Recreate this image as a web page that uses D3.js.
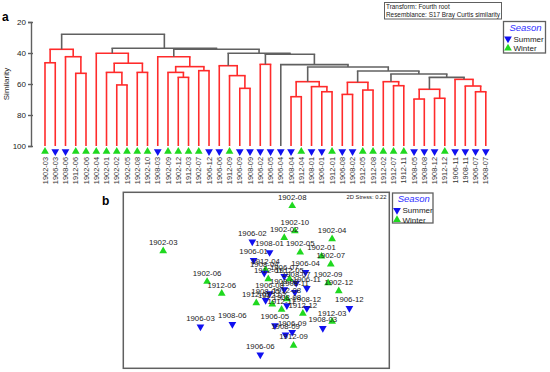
<!DOCTYPE html>
<html>
<head>
<meta charset="utf-8">
<script src="https://cdn.jsdelivr.net/npm/d3@7"></script>
<style>
  body { margin: 0; background: #fff; }
  text { font-family: "Liberation Sans", Arial, sans-serif; }
</style>
</head>
<body>
<div id="chart"></div>
<script>
/* Leaves of the dendrogram, left to right. */
const leafLabels = ["1902-03","1906-03","1908-06","1912-06","1902-06","1902-04","1902-01","1902-02","1902-05","1902-08","1902-10",
  "1908-03","1902-09","1902-12","1912-03","1902-07","1906-12","1906-06","1912-09","1906-09","1908-09","1906-02","1906-05",
  "1906-04","1908-04","1912-04","1908-01","1906-01","1912-01","1906-08","1908-02","1912-05","1912-08","1912-02","1912-07",
  "1912-11","1908-05","1908-08","1908-12","1912-12","1906-11","1908-11","1906-07","1908-07"]

/* Season of each site code. */
const seasonOfSite = { "1902": "Winter", "1906": "Summer", "1908": "Summer", "1912": "Winter" }

/* Merges, hclust style: [left, right, similarity]. Negative = leaf (-1 is first leaf), positive = merge row (1-based). */
const merges = [
  [-1, -2, 46.3], [-4, -5, 53.1], [-3, 2, 42.4], [1, 3, 37.6],
  [-8, -9, 60.6], [-7, 5, 52.5], [-10, -11, 52.5], [6, 7, 46.6], [-6, 8, 40.2],
  [-14, -15, 55.7], [-13, 10, 52.5], [-16, -17, 51.4], [11, 12, 48.8], [-12, 13, 42.4],
  [-20, -21, 62.8], [-19, 15, 54.6], [-18, 16, 48.2],
  [-22, -23, 47.3],
  [-25, -26, 68.2], [-28, -29, 65.0], [-27, 20, 61.7], [19, 21, 58.5],
  [-30, -31, 66.7], [-32, -33, 63.9], [23, 24, 58.9],
  [-35, -36, 61.1], [-34, 26, 58.5],
  [-37, -38, 69.7], [-39, -40, 69.2], [28, 29, 63.4],
  [-43, -44, 65.0], [-42, 31, 61.3], [-41, 32, 57.0],
  [30, 33, 55.7], [27, 34, 53.5], [25, 35, 51.6], [22, 36, 49.0], [-24, 37, 47.5],
  [18, 38, 40.8], [17, 39, 40.2], [14, 40, 37.6], [9, 41, 36.9], [4, 42, 27.9]
]

/* Merge rows that root a significant (red) group. */
const redGroups = [4, 9, 14, 17, 18, 22, 25, 27, 30, 33]

const simTicks = [20, 40, 60, 80, 100]

/* nMDS ordination: [sample, x, y]. */
const mdsPoints = [
  ["1902-08", 0.27, 0.56], ["1902-10", 0.29, 0.37], ["1902-02", 0.21, 0.32], ["1902-03", -0.70, 0.22],
  ["1906-02", -0.03, 0.29], ["1908-01", 0.10, 0.21], ["1906-01", -0.02, 0.15], ["1902-04", 0.57, 0.31],
  ["1902-01", 0.49, 0.18], ["1902-07", 0.56, 0.12], ["1902-05", 0.33, 0.21], ["1906-04", 0.37, 0.06],
  ["1902-09", 0.54, -0.02], ["1902-12", 0.62, -0.08], ["1906-12", 0.70, -0.21], ["1912-03", 0.57, -0.31],
  ["1908-03", 0.50, -0.36], ["1906-05", 0.14, -0.34], ["1906-09", 0.27, -0.39], ["1908-09", 0.22, -0.41],
  ["1912-09", 0.28, -0.49], ["1906-06", 0.03, -0.56], ["1906-03", -0.42, -0.35], ["1908-06", -0.18, -0.33],
  ["1902-06", -0.37, -0.01], ["1912-06", -0.26, -0.10], ["1912-12", 0.35, -0.25],
  ["1912-04", 0.07, 0.08], ["1908-04", 0.06, 0.055], ["1912-01", 0.09, 0.01], ["1906-07", 0.21, 0.03],
  ["1908-07", 0.30, -0.02], ["1906-11", 0.38, -0.06], ["1908-11", 0.29, -0.09], ["1906-08", 0.10, -0.10],
  ["1908-02", 0.21, -0.07], ["1912-05", 0.25, 0.01], ["1912-08", 0.23, -0.14], ["1912-02", 0.00, -0.17],
  ["1912-07", 0.12, -0.18], ["1912-11", 0.19, -0.22], ["1908-05", 0.07, -0.15], ["1908-08", 0.23, -0.19],
  ["1908-12", 0.38, -0.21]
]

const seasons = ["Summer", "Winter"]
const stressText = "2D Stress: 0.22"
const infoLines = ["Transform: Fourth root", "Resemblance: S17 Bray Curtis similarity"]

/* Styles. */
const RED = "#ff2b2b"
const GREY = "#606060"
const seasonColor = { Summer: "#1010f0", Winter: "#1fd81f" }
const seasonRotate = { Summer: 180, Winter: 0 }

const width = 550
const height = 372

const svg = d3.select("#chart")
  .append("svg")
  .attr("width", width)
  .attr("height", height)

/* ---------- Panel a: dendrogram ---------- */

/* Build nested tree from the merge rows. */
function build(ref) {
  if (ref < 0) return { name: leafLabels[-ref - 1], sim: 100 }
  const m = merges[ref - 1]
  return { id: ref, sim: m[2], children: [build(m[0]), build(m[1])] }
}

const root = d3.hierarchy(build(merges.length))
d3.cluster().nodeSize([1, 1]).separation(() => 1)(root)

/* Flag nodes inside red groups. */
root.each(d => {
  if (d.data.id && redGroups.includes(d.data.id)) d.descendants().forEach(n => n.red = true)
})

const leaves = root.leaves()
const x = d3.scaleLinear()
  .domain(d3.extent(leaves, d => d.x))
  .range([45, 485.8])

const y = d3.scaleLinear()
  .domain([20, 100])
  .range([22, 146])

const dendro = svg.append("g")

/* Horizontal bars. */
dendro.selectAll("line.h")
  .data(root.descendants().filter(d => d.children))
  .enter()
  .append("line")
  .attr("class", "h")
  .attr("x1", d => x(d.children[0].x))
  .attr("x2", d => x(d.children[1].x))
  .attr("y1", d => y(d.data.sim))
  .attr("y2", d => y(d.data.sim))
  .attr("stroke", d => d.red ? RED : GREY)
  .attr("stroke-width", 1.6)
  .attr("stroke-linecap", "square")

/* Vertical stems. */
dendro.selectAll("line.v")
  .data(root.descendants().filter(d => d.parent))
  .enter()
  .append("line")
  .attr("class", "v")
  .attr("x1", d => x(d.x))
  .attr("x2", d => x(d.x))
  .attr("y1", d => y(d.data.sim))
  .attr("y2", d => y(d.parent.data.sim))
  .attr("stroke", d => d.parent.red ? RED : GREY)
  .attr("stroke-width", 1.6)

/* Leaf markers. */
const symbol = d3.symbol().type(d3.symbolTriangle).size(26)

dendro.selectAll("path.leaf")
  .data(leaves)
  .enter()
  .append("path")
  .attr("class", "leaf")
  .attr("d", symbol)
  .attr("fill", d => seasonColor[seasonOfSite[d.data.name.slice(0, 4)]])
  .attr("transform", d => `translate(${x(d.x)},151.5) rotate(${seasonRotate[seasonOfSite[d.data.name.slice(0, 4)]]})`)

/* Leaf labels. */
dendro.selectAll("text.leaf")
  .data(leaves)
  .enter()
  .append("text")
  .attr("class", "leaf")
  .attr("transform", d => `translate(${x(d.x)},157) rotate(-90)`)
  .attr("text-anchor", "end")
  .attr("dy", "0.35em")
  .attr("font-size", 7.4)
  .attr("fill", "#333")
  .text(d => d.data.name)

/* Y axis. */
const yAxis = svg.append("g")
  .attr("transform", "translate(31,0)")
  .call(d3.axisLeft(y).tickValues(simTicks).tickSize(3).tickPadding(2).tickFormat(d3.format("d")))

yAxis.select(".domain").attr("stroke", GREY).attr("stroke-width", 1.4)
yAxis.selectAll(".tick line").attr("x1", 2).attr("stroke", GREY).attr("stroke-width", 1.4)
yAxis.selectAll(".tick text").attr("font-size", 8).attr("fill", "#222")
  .attr("font-family", "Liberation Sans, Arial, sans-serif")

svg.append("text")
  .attr("transform", "translate(9,84) rotate(-90)")
  .attr("text-anchor", "middle")
  .attr("font-size", 8)
  .attr("fill", "#222")
  .text("Similarity")

svg.append("text")
  .attr("x", 2)
  .attr("y", 21)
  .attr("font-size", 12)
  .attr("font-weight", "bold")
  .text("a")

/* Info box. */
svg.append("rect")
  .attr("x", 384.5).attr("y", 2.5)
  .attr("width", 117).attr("height", 16.5)
  .attr("fill", "#fff").attr("stroke", GREY).attr("stroke-width", 1)

svg.selectAll("text.info")
  .data(infoLines)
  .enter()
  .append("text")
  .attr("class", "info")
  .attr("x", 386)
  .attr("y", (d, i) => 8.5 + i * 8)
  .attr("font-size", 6.4)
  .attr("fill", "#222")
  .text(d => d)

/* Season legend. */
function drawLegend(g, w, h) {
  g.append("rect")
    .attr("width", w).attr("height", h)
    .attr("fill", "#fff").attr("stroke", GREY).attr("stroke-width", 1.3)
  g.append("text")
    .attr("x", w / 2 + 1).attr("y", 9)
    .attr("text-anchor", "middle")
    .attr("font-size", 9.5)
    .attr("font-style", "italic")
    .attr("fill", "#3030ff")
    .text("Season")
  seasons.forEach((s, i) => {
    g.append("path")
      .attr("d", symbol)
      .attr("fill", seasonColor[s])
      .attr("transform", `translate(4.5,${17.3 + i * 9.5}) rotate(${seasonRotate[s]})`)
    g.append("text")
      .attr("x", 10).attr("y", 20 + i * 9.5)
      .attr("font-size", 8)
      .attr("fill", "#222")
      .text(s)
  })
}

drawLegend(svg.append("g").attr("transform", "translate(503.5,21.5)"), 42, 31.5)

/* ---------- Panel b: nMDS ---------- */

const box = { x0: 123.3, y0: 192.3, x1: 389.3, y1: 368.3 }

const mx = d3.scaleLinear().domain([-1, 1]).range([box.x0, box.x1])
const my = d3.scaleLinear().domain([-0.662, 0.662]).range([box.y1, box.y0])

svg.append("rect")
  .attr("x", box.x0).attr("y", box.y0)
  .attr("width", box.x1 - box.x0).attr("height", box.y1 - box.y0)
  .attr("fill", "none").attr("stroke", GREY).attr("stroke-width", 1.5)

const mds = svg.append("g")

mds.selectAll("path")
  .data(mdsPoints)
  .enter()
  .append("path")
  .attr("d", symbol)
  .attr("fill", d => seasonColor[seasonOfSite[d[0].slice(0, 4)]])
  .attr("transform", d => `translate(${mx(d[1])},${my(d[2])}) rotate(${seasonRotate[seasonOfSite[d[0].slice(0, 4)]]})`)

mds.selectAll("text")
  .data(mdsPoints)
  .enter()
  .append("text")
  .attr("x", d => mx(d[1]))
  .attr("y", d => my(d[2]) - 6)
  .attr("text-anchor", "middle")
  .attr("font-size", 7.8)
  .attr("fill", "#222")
  .text(d => d[0])

svg.append("text")
  .attr("x", 386.5).attr("y", 199)
  .attr("text-anchor", "end")
  .attr("font-size", 5.8)
  .attr("fill", "#222")
  .text(stressText)

svg.append("text")
  .attr("x", 102)
  .attr("y", 205)
  .attr("font-size", 12)
  .attr("font-weight", "bold")
  .text("b")

drawLegend(svg.append("g").attr("transform", "translate(392.5,193)"), 40.5, 30)
</script>
</body>
</html>
